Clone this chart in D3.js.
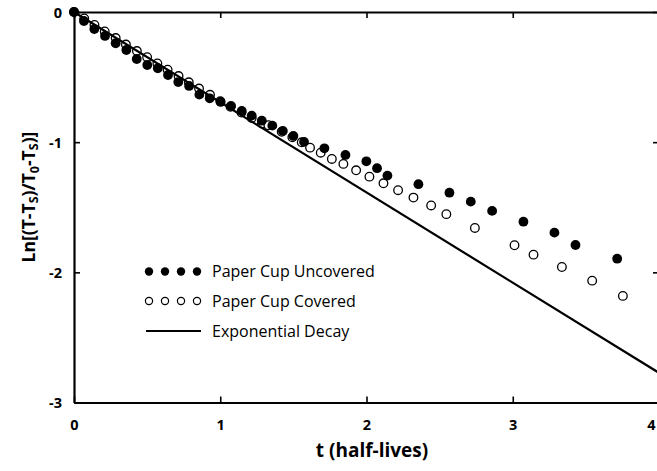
<!DOCTYPE html>
<html><head><meta charset="utf-8">
<script src="https://cdn.jsdelivr.net/npm/d3@7"></script>
<style>
html,body{margin:0;padding:0;background:#fff;}
svg{display:block;}
text{font-family:"Open Sans",sans-serif;fill:#000;}
</style></head>
<body><svg id="c" width="657" height="471"></svg>
<script>
// Data
const uncoveredT = [0,0.068,0.139,0.212,0.285,0.358,0.429,0.501,0.573,0.643,0.713,0.787,0.857,0.928,1.003,1.074,1.147,1.215,1.284,1.356,1.428,1.500,1.573,1.712,1.856,1.999,2.072,2.143,2.355,2.567,2.713,2.859,3.073,3.285,3.429,3.714];
const uncoveredY = [0,-0.069,-0.131,-0.184,-0.240,-0.292,-0.361,-0.407,-0.432,-0.484,-0.538,-0.568,-0.635,-0.663,-0.691,-0.722,-0.760,-0.796,-0.835,-0.873,-0.914,-0.952,-0.998,-1.047,-1.098,-1.147,-1.200,-1.257,-1.323,-1.388,-1.457,-1.528,-1.611,-1.695,-1.790,-1.895];
const coveredT = [0,0.07,0.14,0.21,0.285,0.355,0.43,0.5,0.57,0.64,0.715,0.785,0.855,0.93,1.0,1.07,1.145,1.215,1.285,1.329,1.42,1.493,1.557,1.614,1.687,1.763,1.842,1.929,2.020,2.116,2.216,2.321,2.442,2.546,2.741,3.012,3.142,3.336,3.543,3.753];
const coveredY = [0,-0.050,-0.100,-0.150,-0.200,-0.250,-0.300,-0.347,-0.395,-0.443,-0.492,-0.540,-0.588,-0.636,-0.685,-0.728,-0.772,-0.815,-0.857,-0.870,-0.920,-0.962,-1.001,-1.042,-1.081,-1.129,-1.167,-1.216,-1.265,-1.316,-1.369,-1.426,-1.486,-1.553,-1.659,-1.792,-1.864,-1.959,-2.064,-2.181];
const decayT = [0,4];
const decayY = [0,-2.7726];
const xTicks = [0,1,2,3,4];
const yTicks = [0,-1,-2,-3];
const legendLabels = ["Paper Cup Uncovered","Paper Cup Covered","Exponential Decay"];

const svg = d3.select("#c");
const L=74, R=659, T=12, B=402.5;
const x = d3.scaleLinear().domain([0,4]).range([L,R]);
const y = d3.scaleLinear().domain([-3,0]).range([B,T]);

// axes
const fmt = d => String(d);
const gB = svg.append("g").attr("transform",`translate(0,${B})`)
  .call(d3.axisBottom(x).tickValues(xTicks).tickFormat(fmt).tickSizeInner(-6).tickSizeOuter(0).tickPadding(17));
const gT = svg.append("g").attr("transform",`translate(0,${T})`)
  .call(d3.axisTop(x).tickValues(xTicks).tickFormat("").tickSizeInner(-6).tickSizeOuter(0));
const gL = svg.append("g").attr("transform",`translate(${L},0)`)
  .call(d3.axisLeft(y).tickValues(yTicks).tickFormat(fmt).tickSizeInner(-6).tickSizeOuter(0).tickPadding(12));
const gR = svg.append("g").attr("transform",`translate(${R},0)`)
  .call(d3.axisRight(y).tickValues(yTicks).tickFormat("").tickSizeInner(-6).tickSizeOuter(0));
[gB,gT,gL,gR].forEach(g=>{
  g.select(".domain").attr("stroke","#000").attr("stroke-width",2.2);
  g.selectAll(".tick line").attr("stroke","#000").attr("stroke-width",1.6);
  g.selectAll(".tick text").attr("font-family","Open Sans").attr("font-weight","bold").attr("font-size",14.5).attr("fill","#000");
});
gL.selectAll(".tick text").attr("dy","0.36em");
gB.selectAll(".tick text").filter(d=>d===4).attr("text-anchor","end").attr("dx",-4);

// covered (open)
svg.append("g").selectAll("circle").data(coveredT.map((t,i)=>[t,coveredY[i]])).join("circle")
  .attr("cx",d=>x(d[0])).attr("cy",d=>y(d[1])).attr("r",4.3)
  .attr("fill","#fff").attr("stroke","#000").attr("stroke-width",1.3);

// decay line
const line = d3.line().x(d=>x(d[0])).y(d=>y(d[1]));
svg.append("path").datum(decayT.map((t,i)=>[t,decayY[i]]))
  .attr("d",line).attr("fill","none").attr("stroke","#000").attr("stroke-width",2.2);

// uncovered (filled)
svg.append("g").selectAll("circle").data(uncoveredT.map((t,i)=>[t,uncoveredY[i]])).join("circle")
  .attr("cx",d=>x(d[0])).attr("cy",d=>y(d[1])).attr("r",4.9).attr("fill","#000");

// legend
const lg = svg.append("g");
const lx = [149,165,181,197];
lg.selectAll("circle.f").data(lx).join("circle").attr("class","f")
  .attr("cx",d=>d).attr("cy",271.5).attr("r",4.2).attr("fill","#000");
lg.selectAll("circle.o").data(lx).join("circle").attr("class","o")
  .attr("cx",d=>d).attr("cy",301).attr("r",3.6).attr("fill","#fff").attr("stroke","#000").attr("stroke-width",1.2);
lg.append("line").attr("x1",146).attr("x2",201).attr("y1",331).attr("y2",331).attr("stroke","#000").attr("stroke-width",2);
lg.selectAll("text").data(legendLabels).join("text")
  .attr("x",212).attr("y",(d,i)=>271.5+i*30).attr("dy","0.36em")
  .attr("font-size",16).text(d=>d);

// axis titles
svg.append("text").attr("x",372).attr("y",457).attr("text-anchor","middle")
  .attr("font-weight","bold").attr("font-size",19).text("t (half-lives)");
const yt = svg.append("text").attr("transform","translate(35,197) rotate(-90)")
  .attr("text-anchor","middle").attr("font-weight","bold").attr("font-size",17.5);
yt.append("tspan").text("Ln[(T-T");
yt.append("tspan").attr("font-size",12.5).attr("dy",3).text("S");
yt.append("tspan").attr("dy",-3).text(")/T");
yt.append("tspan").attr("font-size",12.5).attr("dy",4).text("0");
yt.append("tspan").attr("dy",-4).text("-T");
yt.append("tspan").attr("font-size",12.5).attr("dy",3).text("S");
yt.append("tspan").attr("dy",-3).text(")]");
</script></body></html>
